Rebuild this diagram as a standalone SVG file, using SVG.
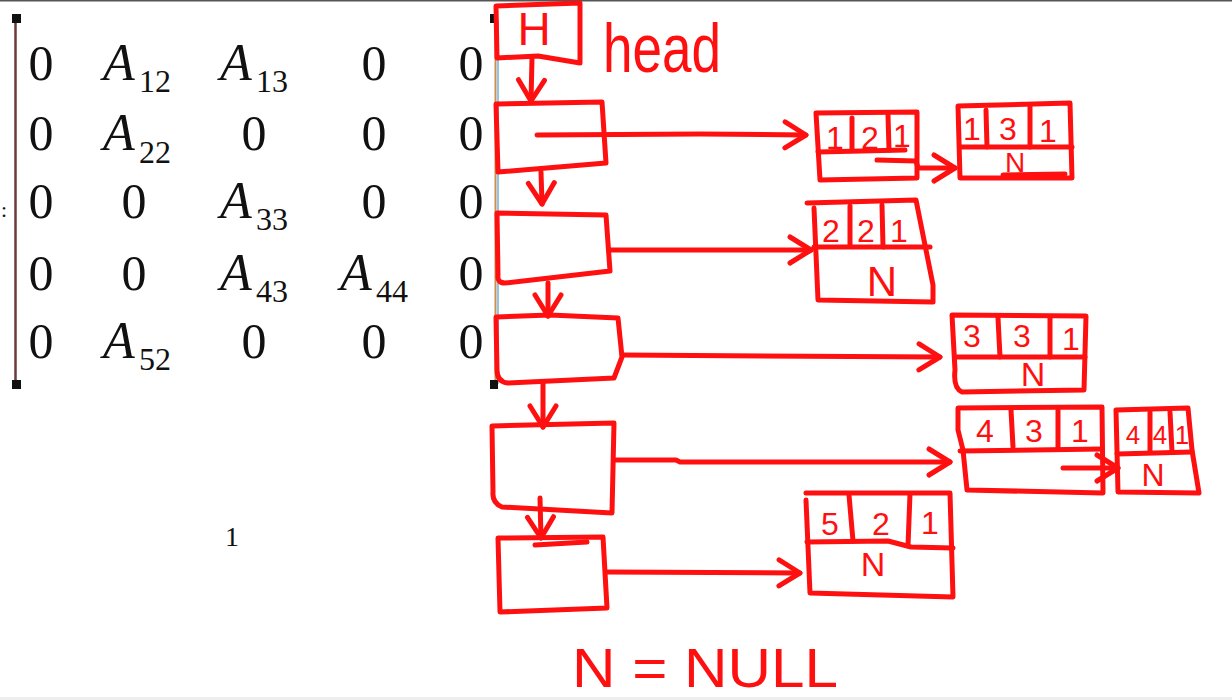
<svg xmlns="http://www.w3.org/2000/svg" width="1232" height="700" viewBox="0 0 1232 700">
<style>
.m{font-family:"Liberation Serif",serif;font-size:50px;fill:#111}
.a{font-family:"Liberation Serif",serif;font-size:52px;font-style:italic;fill:#111}
.s{font-family:"Liberation Serif",serif;font-size:32px;fill:#111}
.r{fill:none;stroke:#ff1010;stroke-width:5;stroke-linecap:round;stroke-linejoin:round}
.t{font-family:"Liberation Sans",sans-serif;fill:#ff1010}
.n{font-family:"Liberation Sans",sans-serif;fill:#ff1010;font-size:32px;text-anchor:middle}
</style>
<defs>
<marker id="ah" viewBox="0 0 32 32" refX="29" refY="16" markerWidth="32" markerHeight="32" markerUnits="userSpaceOnUse" orient="auto">
<path d="M8 3 L29 16 L8 29" fill="none" stroke="#ff1010" stroke-width="5" stroke-linecap="round" stroke-linejoin="round"/>
</marker>
</defs>
<rect width="1232" height="700" fill="#fff"/>
<line x1="0" y1="0.7" x2="1232" y2="0.7" stroke="#555" stroke-width="1.5"/>
<rect x="0" y="697" width="1232" height="3" fill="#eeeeee"/>

<g id="matrix">
<line x1="15.5" y1="18" x2="15.5" y2="386" stroke="#6b3a3a" stroke-width="2.5"/>
<rect x="12" y="14" width="9" height="9" fill="#111"/>
<rect x="12" y="380" width="9" height="9" fill="#111"/>
<line x1="495.5" y1="20" x2="495.5" y2="384" stroke="#c99050" stroke-width="2"/>
<line x1="498" y1="20" x2="498" y2="384" stroke="#8ec5e8" stroke-width="2"/>
<rect x="490" y="14" width="8" height="9" fill="#111"/>
<rect x="490" y="380" width="8" height="9" fill="#111"/>
<text class="m" x="1" y="217" style="font-size:22px">:</text>
<g text-anchor="middle">
<text class="m" x="41" y="80">0</text><text class="m" x="374" y="80">0</text><text class="m" x="471" y="80">0</text>
<text class="m" x="41" y="150">0</text><text class="m" x="254" y="150">0</text><text class="m" x="374" y="150">0</text><text class="m" x="471" y="150">0</text>
<text class="m" x="41" y="218">0</text><text class="m" x="134" y="218">0</text><text class="m" x="374" y="218">0</text><text class="m" x="471" y="218">0</text>
<text class="m" x="41" y="290">0</text><text class="m" x="134" y="290">0</text><text class="m" x="471" y="290">0</text>
<text class="m" x="41" y="358">0</text><text class="m" x="254" y="358">0</text><text class="m" x="374" y="358">0</text><text class="m" x="471" y="358">0</text>
</g>
<text class="a" x="103" y="80">A</text><text class="s" x="139" y="92">12</text>
<text class="a" x="220" y="80">A</text><text class="s" x="256" y="92">13</text>
<text class="a" x="103" y="150">A</text><text class="s" x="139" y="163">22</text>
<text class="a" x="220" y="218">A</text><text class="s" x="256" y="230">33</text>
<text class="a" x="220" y="290">A</text><text class="s" x="256" y="302">43</text>
<text class="a" x="340" y="290">A</text><text class="s" x="376" y="302">44</text>
<text class="a" x="103" y="358">A</text><text class="s" x="139" y="370">52</text>
<text class="m" x="232" y="546" style="font-size:28px" text-anchor="middle">1</text>
</g>

<g id="head">
<path class="r" d="M496 6 L580 3 L580 63 L538 56 L497 58 Z"/>
<text class="t" x="534" y="45" style="font-size:46px" text-anchor="middle">H</text>
<text class="t" x="603" y="72" style="font-size:68px" textLength="118" lengthAdjust="spacingAndGlyphs">head</text>
</g>

<g id="row1">
<path class="r" d="M496 104 L602 102 L606 163 L498 172 Z"/>
</g>
<g id="row2">
<path class="r" d="M497 213 L606 215 L610 271 L505 283 Q497 283 498 275 Z"/>
</g>
<g id="row3">
<path class="r" d="M496 317 L550 315 L618 318 L622 357 L614 378 L508 383 Q497 382 497 370 Z"/>
</g>
<g id="row4">
<path class="r" d="M492 426 L614 423 L612 513 L502 507 Q492 503 493 492 Z"/>
</g>
<g id="row5">
<path class="r" d="M498 538 L603 537 L607 608 L500 612 Z"/>
<path class="r" d="M535 545 L587 542"/>
</g>

<g id="e11">
<path class="r" d="M816 113 L917 112 L917 178 L820 180 Z"/>
<path class="r" d="M818 152 L905 150"/>
<path class="r" d="M852 118 L852 150 M888 115 L889 150"/>
<text class="n" x="835" y="149">1</text><text class="n" x="870" y="149">2</text><text class="n" x="902" y="147">1</text>
</g>
<g id="e13">
<path class="r" d="M958 106 L1070 103 L1072 178 L960 178 Z"/>
<path class="r" d="M960 147 L1072 147"/>
<path class="r" d="M986 110 L987 147 M1030 107 L1030 147"/>
<text class="n" x="972" y="140">1</text><text class="n" x="1008" y="140">3</text><text class="n" x="1048" y="142">1</text>
<text class="n" x="1015" y="172" style="font-size:28px">N</text>
<path class="r" d="M1003 175 L1065 174" stroke-width="6"/>
</g>
<g id="e22">
<path class="r" d="M807 203 L916 200 L933 285 L933 302 L818 300 L814 208"/>
<path class="r" d="M814 247 L930 247"/>
<path class="r" d="M850 206 L850 245 M882 205 L883 247"/>
<text class="n" x="831" y="242">2</text><text class="n" x="866" y="242">2</text><text class="n" x="899" y="242">1</text>
<text class="n" x="882" y="296" style="font-size:42px">N</text>
</g>
<g id="e33">
<path class="r" d="M952 315 L1086 316 L1084 390 L962 392 Q953 388 955 370 Z"/>
<path class="r" d="M955 357 L1085 357"/>
<path class="r" d="M998 318 L1000 357 M1050 318 L1050 357"/>
<text class="n" x="972" y="347">3</text><text class="n" x="1022" y="347">3</text><text class="n" x="1071" y="350">1</text>
<text class="n" x="1033" y="386" style="font-size:34px">N</text>
</g>
<g id="e43">
<path class="r" d="M958 408 L1102 407 L1103 493 L967 490 L963 450 L958 430 Z"/>
<path class="r" d="M960 451 L1102 449"/>
<path class="r" d="M1011 410 L1013 447 M1058 410 L1058 447"/>
<text class="n" x="985" y="442">4</text><text class="n" x="1034" y="442">3</text><text class="n" x="1080" y="442">1</text>
</g>
<g id="e44">
<path class="r" d="M1116 410 L1188 408 L1192 450 L1199 493 L1118 492 Z"/>
<path class="r" d="M1117 454 L1192 452"/>
<path class="r" d="M1150 412 L1150 452 M1170 412 L1172 452"/>
<text class="n" x="1133" y="444" style="font-size:26px">4</text><text class="n" x="1160" y="444" style="font-size:26px">4</text><text class="n" x="1182" y="444" style="font-size:26px">1</text>
<text class="n" x="1153" y="486">N</text>
</g>
<g id="e52">
<path class="r" d="M806 493 L950 493 L953 597 L810 593 L806 500"/>
<path class="r" d="M807 542 L888 541 L911 547 L953 548"/>
<path class="r" d="M849 495 L853 541 M910 494 L908 546"/>
<text class="n" x="830" y="535">5</text><text class="n" x="881" y="535">2</text><text class="n" x="930" y="534">1</text>
<text class="n" x="873" y="576" style="font-size:34px">N</text>
</g>

<g id="legend">
<text class="t" x="572" y="687" style="font-size:55px" textLength="266" lengthAdjust="spacingAndGlyphs">N = NULL</text>
</g>

<g id="connectors" class="r">
<path d="M532 58 L531 101" marker-end="url(#ah)"/>
<path d="M541 172 L542 204" marker-end="url(#ah)"/>
<path d="M548 283 L548 316" marker-end="url(#ah)"/>
<path d="M543 383 L543 427" marker-end="url(#ah)"/>
<path d="M540 498 L541 538" marker-end="url(#ah)"/>
<path d="M537 135 L700 134 L806 135" marker-end="url(#ah)"/>
<path d="M610 250 L811 250" marker-end="url(#ah)"/>
<path d="M622 355 L940 357" marker-end="url(#ah)"/>
<path d="M615 460 L676 460 L680 462 L950 462" marker-end="url(#ah)"/>
<path d="M607 572 L800 573" marker-end="url(#ah)"/>
<path d="M877 160 L916 161 L918 168 L955 168" marker-end="url(#ah)"/>
<path d="M1063 468 L1118 468" marker-end="url(#ah)"/>
</g>
</svg>
